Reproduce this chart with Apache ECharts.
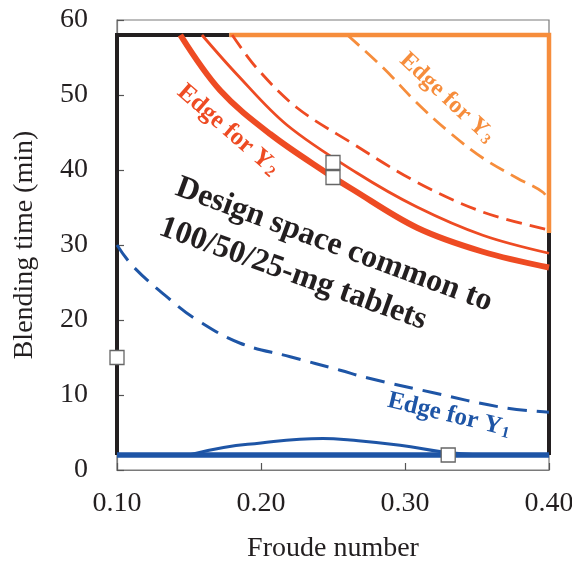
<!DOCTYPE html>
<html>
<head>
<meta charset="utf-8">
<title>Design space: blending time vs Froude number</title>
<script src="https://cdn.jsdelivr.net/npm/echarts@6/dist/echarts.min.js"></script>
<style>
  html, body { margin: 0; padding: 0; background: #fff; }
  #chart { width: 572px; height: 562px; }
</style>
</head>
<body>
<div id="chart"></div>
<script>
// Axis ticks
const froudeTicks = [0.10, 0.20, 0.30, 0.40];
const timeTicks = [0, 10, 20, 30, 40, 50, 60];

// Edge for Y2: thick solid, thin solid and dashed contours
const y2ThickFr = [0.144, 0.1717, 0.2064, 0.248, 0.262, 0.3084, 0.354, 0.40];
const y2ThickT  = [58, 50.6, 44.8, 39.3, 37.6, 32.3, 29.1, 27.0];
const y2ThinFr  = [0.159, 0.1835, 0.218, 0.2667, 0.308, 0.354, 0.40];
const y2ThinT   = [58, 52.7, 46.0, 39.6, 35.1, 31.3, 28.9];
const y2DashFr  = [0.180, 0.197, 0.225, 0.263, 0.308, 0.354, 0.40];
const y2DashT   = [58, 53.6, 48.3, 43.6, 38.4, 34.4, 32.0];

// Edge for Y3: dashed contour
const y3DashFr = [0.26, 0.285, 0.308, 0.331, 0.354, 0.378, 0.396, 0.40];
const y3DashT  = [58, 53.6, 49.0, 45.0, 41.6, 38.9, 37.0, 35.6];

// Edge for Y1: dashed contour and thin bump above the base line
const y1DashFr = [0.10, 0.1114, 0.137, 0.1557, 0.1856, 0.2203, 0.255, 0.2736, 0.3197, 0.366, 0.40];
const y1DashT  = [30, 27.1, 22.7, 20.0, 16.9, 15.1, 13.3, 12.3, 10.3, 8.4, 7.7];
const y1BumpFr = [0.15, 0.174, 0.20, 0.227, 0.243, 0.262, 0.2966, 0.3265, 0.352];
const y1BumpT  = [2, 3.0, 3.6, 4.1, 4.2, 4.0, 3.3, 2.4, 2];

// Design space boundary segments
const baseFr = [0.10, 0.40];
const baseT  = [2, 2];
const blackLeftFr  = [0.178, 0.10, 0.10];
const blackLeftT   = [58, 58, 2];
const blackRightFr = [0.40, 0.40];
const blackRightT  = [31.6, 2];
const orangeFr = [0.178, 0.40, 0.40];
const orangeT  = [58, 58, 31.6];

// Experimental design points
const pointFr = [0.10, 0.25, 0.25, 0.33];
const pointT  = [15, 41, 39, 2];

const RED = '#EE4B23';
const ORANGE = '#F68D3C';
const BLUE = '#1E55A6';
const BLACK = '#231F20';
const SERIF = '"Liberation Serif", "Times New Roman", serif';

const zip = (xs, ys) => xs.map((x, i) => [x, ys[i]]);

function lineSeries(xs, ys, color, width, type, smooth, z) {
  return {
    type: 'line',
    data: zip(xs, ys),
    showSymbol: false,
    smooth: smooth,
    silent: true,
    z: z || 2,
    lineStyle: { color: color, width: width, type: type, cap: 'butt', join: 'miter' }
  };
}

const chart = echarts.init(document.getElementById('chart'), null, { renderer: 'canvas' });

const option = {
  animation: false,
  backgroundColor: '#fff',
  grid: {
    left: 117, right: 23, top: 20, bottom: 92,
    outerBoundsMode: 'none', containLabel: false,
    show: true, borderColor: '#7a7a7a', borderWidth: 1.2, backgroundColor: 'transparent'
  },
  xAxis: {
    type: 'value', min: froudeTicks[0], max: froudeTicks[froudeTicks.length - 1], interval: 0.1,
    name: 'Froude number', nameLocation: 'middle', nameGap: 65,
    nameTextStyle: { fontFamily: SERIF, fontSize: 28, color: BLACK },
    axisLine: { show: true, lineStyle: { color: '#7a7a7a', width: 1.2 } },
    axisTick: { show: true, inside: true, length: 7, lineStyle: { color: '#555', width: 1.2 } },
    axisLabel: { fontFamily: SERIF, fontSize: 28, color: BLACK, margin: 20,
                 formatter: v => v.toFixed(2) },
    splitLine: { show: false }
  },
  yAxis: {
    type: 'value', min: timeTicks[0], max: timeTicks[timeTicks.length - 1], interval: 10,
    name: 'Blending time (min)', nameLocation: 'middle', nameGap: 78,
    nameTextStyle: { fontFamily: SERIF, fontSize: 28, color: BLACK },
    axisLine: { show: true, lineStyle: { color: '#7a7a7a', width: 1.2 } },
    axisTick: { show: true, inside: true, length: 7, lineStyle: { color: '#555', width: 1.2 } },
    axisLabel: { fontFamily: SERIF, fontSize: 28, color: BLACK, margin: 29 },
    splitLine: { show: false }
  },
  series: [
    lineSeries(y1DashFr, y1DashT, BLUE, 3, [19, 10], 0.4, 3),
    lineSeries(y1BumpFr, y1BumpT, BLUE, 3, 'solid', 0.5, 3),
    lineSeries(blackLeftFr, blackLeftT, BLACK, 4, 'solid', false, 2),
    lineSeries(blackRightFr, blackRightT, BLACK, 4, 'solid', false, 2),
    lineSeries(orangeFr, orangeT, ORANGE, 4.5, 'solid', false, 2),
    lineSeries(baseFr, baseT, BLUE, 5.5, 'solid', false, 4),
    lineSeries(y2ThickFr, y2ThickT, RED, 6, 'solid', 0.35, 3),
    lineSeries(y2ThinFr, y2ThinT, RED, 2.8, 'solid', 0.35, 3),
    lineSeries(y2DashFr, y2DashT, RED, 2.8, [16, 8], 0.35, 3),
    lineSeries(y3DashFr, y3DashT, ORANGE, 2.8, [16, 8], 0.35, 3),
    {
      type: 'scatter',
      data: zip(pointFr, pointT),
      symbol: 'rect',
      symbolSize: 14,
      silent: true,
      z: 10,
      itemStyle: { color: '#fff', borderColor: '#666', borderWidth: 1.3, opacity: 1 }
    }
  ],
  graphic: []
};

chart.setOption(option);

// Rotated annotations with subscripts
function edgeLabel(sub, color, x, y, deg, size) {
  return {
    type: 'text', x: x, y: y, rotation: -deg * Math.PI / 180, z: 20, silent: true,
    style: {
      text: '{m|Edge for Y}{s|' + sub + '}',
      align: 'center', verticalAlign: 'middle',
      rich: {
        m: { fontFamily: SERIF, fontWeight: 'bold', fontSize: size, fill: color, lineHeight: size },
        s: { fontFamily: SERIF, fontWeight: 'bold', fontSize: Math.round(size * 0.62), fill: color,
             lineHeight: Math.round(size * 0.62), padding: [Math.round(size * 0.42), 0, 0, 1], verticalAlign: 'bottom' }
      }
    }
  };
}
function plainLabel(text, x, y, deg, size) {
  return {
    type: 'text', x: x, y: y, rotation: -deg * Math.PI / 180, z: 20, silent: true,
    style: {
      text: text, align: 'center', verticalAlign: 'middle',
      fontFamily: SERIF, fontWeight: 'bold', fontSize: size, fill: BLACK
    }
  };
}

chart.setOption({
  graphic: [
    edgeLabel('2', RED, 228, 130, 41, 25),
    edgeLabel('3', ORANGE, 447, 98, 43, 24),
    edgeLabel('1', BLUE, 449, 415, 13.5, 25),
    plainLabel('Design space common to', 334, 245, 20.4, 32),
    plainLabel('100/50/25-mg tablets', 293, 274, 19.7, 32)
  ]
});
</script>
</body>
</html>
